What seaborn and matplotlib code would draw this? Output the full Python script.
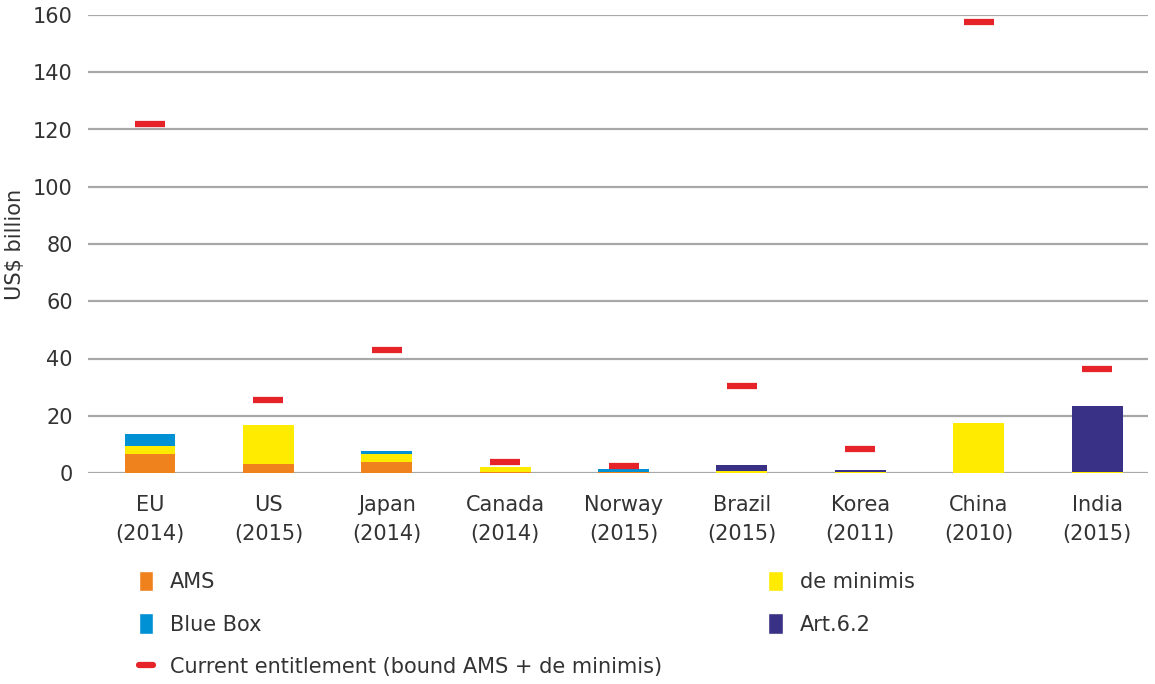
import numpy as np
import pandas as pd
import matplotlib
matplotlib.use("Agg")
import matplotlib.pyplot as plt
import seaborn as sns
from matplotlib.patches import Patch
from matplotlib.lines import Line2D

countries = ["EU\n(2014)", "US\n(2015)", "Japan\n(2014)", "Canada\n(2014)", "Norway\n(2015)",
             "Brazil\n(2015)", "Korea\n(2011)", "China\n(2010)", "India\n(2015)"]
ams = [6.6, 3.3, 3.9, 0.5, 0.5, 0.0, 0.0, 0.0, 0.0]
de_minimis = [2.8, 13.5, 2.7, 1.6, 0.0, 0.8, 0.4, 17.5, 0.5]
blue_box = [4.2, 0.0, 1.1, 0.0, 1.0, 0.0, 0.0, 0.0, 0.0]
art62 = [0.0, 0.0, 0.0, 0.0, 0.0, 2.1, 0.7, 0.0, 22.9]
entitlement = [121.9, 25.5, 43.0, 3.9, 2.6, 30.3, 8.4, 157.5, 36.3]

C_AMS = "#F0821E"
C_DM = "#FFEB00"
C_BLUE = "#0090D4"
C_ART = "#393185"
C_RED = "#E52329"
TXT = "#333333"

sns.set_theme(style="white")
plt.rcParams["font.family"] = ["DejaVu Sans"]
plt.rcParams["text.color"] = TXT

df = pd.DataFrame({"country": countries, "ams": ams, "dm": de_minimis,
                   "blue": blue_box, "art": art62, "ent": entitlement})
df["c1"] = df["ams"]
df["c2"] = df["c1"] + df["dm"]
df["c3"] = df["c2"] + df["blue"]
df["c4"] = df["c3"] + df["art"]

fig = plt.figure(figsize=(11.55, 6.84), dpi=100)
ax = fig.add_axes([88/1155, 211/684, (1148-88)/1155, 458/684])

for col, color in [("c4", C_ART), ("c3", C_BLUE), ("c2", C_DM), ("c1", C_AMS)]:
    sns.barplot(data=df, x="country", y=col, color=color, width=0.43,
                saturation=1, ax=ax, zorder=3, linewidth=0, edgecolor="none")

sns.scatterplot(data=df, x="country", y="ent", marker="_", s=480, linewidth=4.5,
                color=C_RED, ax=ax, zorder=4, legend=False)

ax.set_ylim(0, 160)
ax.set_xlim(-0.524, 8.43)
ax.set_yticks(np.arange(0, 161, 20))
ax.yaxis.grid(True, color="#A8A8A8", linewidth=1.6, zorder=0)
ax.set_axisbelow(True)
for s in ax.spines.values():
    s.set_visible(False)
ax.tick_params(axis="both", length=0, labelsize=15, labelcolor=TXT)
ax.tick_params(axis="x", pad=16)
ax.tick_params(axis="y", pad=11)
ax.set_xlabel("")
ax.set_ylabel("US$ billion", fontsize=15, color=TXT, labelpad=6)
for lab in ax.get_xticklabels():
    lab.set_linespacing(1.55)

handles = [
    Patch(facecolor=C_AMS, label="AMS"),
    Patch(facecolor=C_BLUE, label="Blue Box"),
    Line2D([0], [0], color=C_RED, linewidth=4.5, label="Current entitlement (bound AMS + de minimis)"),
    Patch(facecolor=C_DM, label="de minimis"),
    Patch(facecolor=C_ART, label="Art.6.2"),
]
fig.legend(handles=handles, ncol=2, loc="upper left", bbox_to_anchor=(120/1155, 1-552/684),
           frameon=False, fontsize=15, handlelength=0.7, handleheight=1.15,
           handletextpad=0.8, labelspacing=1.02, columnspacing=5.1)

fig.savefig("out.png", dpi=100)
